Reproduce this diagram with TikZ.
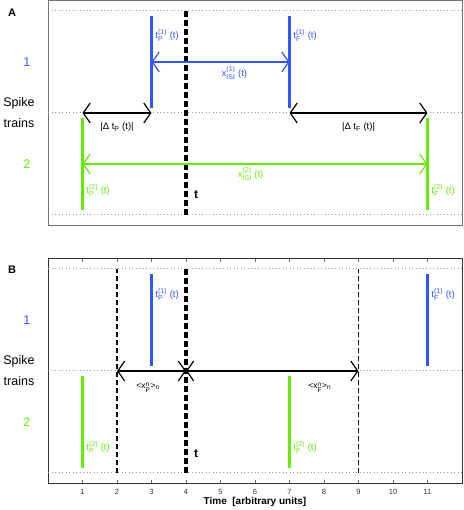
\documentclass[tikz,border=0pt]{standalone}
\usepackage{fontspec}
\usepackage{amsmath}
\setmainfont{Liberation Sans}
\usetikzlibrary{arrows.meta}
\definecolor{trainone}{RGB}{51,85,255}
\definecolor{traintwo}{RGB}{100,235,10}
\DeclareMathSizes{9.5}{9.5}{7}{5.5}
\DeclareMathSizes{8.5}{8.5}{6.5}{5}
\newcommand{\sptime}[3]{#1$^{\text{#2}}_{\text{#3}}$}
\begin{document}
\begin{tikzpicture}[x=34.5pt,y=102pt,
  frameA/.style={draw=black!55,line width=0.9pt},
  frameB/.style={draw=black!80,line width=0.9pt},
  guide/.style={draw=black!40,line width=1pt,dash pattern=on 1pt off 2.5pt},
  spike/.style={line width=3pt},
  tnow/.style={line width=3.5pt,dash pattern=on 6pt off 3pt},
  window/.style={line width=1.3pt,dash pattern=on 5pt off 3pt},
  isi/.style={line width=1.2pt,{Straight Barb[length=7pt,width=20pt]}-{Straight Barb[length=7pt,width=20pt]}},
  lbl/.style={font=\fontsize{9.5}{11}\selectfont,inner sep=1pt},
  mean/.style={font=\fontsize{8.5}{10}\selectfont,inner sep=1pt},
  side/.style={font=\fontsize{12.5}{21}\selectfont,align=center,inner sep=0pt},
  panel/.style={font=\fontsize{11}{13}\bfseries\selectfont,inner sep=0pt},
  now/.style={font=\fontsize{12}{14}\bfseries\selectfont,inner sep=0pt}]
\useasboundingbox (-48pt,-37pt) rectangle (415pt,473pt);
\begin{scope}[yshift=258pt]
\draw[frameA] (0,-0.1) rectangle (12,2.1);
\foreach \k in {0,1,2}
  \draw[guide] (0,\k) -- (12,\k);
\draw[tnow] (4,0) -- (4,2);
\draw[spike,trainone] (3,1.05) -- (3,1.95);
\draw[spike,trainone] (7,1.05) -- (7,1.95);
\draw[spike,traintwo] (1,0.05) -- (1,0.95);
\draw[spike,traintwo] (11,0.05) -- (11,0.95);
\coordinate (a1p) at (3,1.5);
\coordinate (a1f) at (7,1.5);
\coordinate (a2p) at (1,0.5);
\coordinate (a2f) at (11,0.5);
\coordinate (adp2) at (1,1);
\coordinate (adp1) at (3,1);
\coordinate (adf1) at (7,1);
\coordinate (adf2) at (11,1);
\draw[isi,trainone] (a1p) -- (a1f);
\draw[isi,traintwo] (a2p) -- (a2f);
\draw[isi] (adp2) -- (adp1);
\draw[isi] (adf1) -- (adf2);
\node[lbl,trainone,anchor=west] (la1p) at (3.08,1.76) {\sptime{t}{(1)}{P} (t)};
\node[lbl,trainone,anchor=west] (la1f) at (7.08,1.76) {\sptime{t}{(1)}{F} (t)};
\node[lbl,traintwo,anchor=west] (la2p) at (1.08,0.24) {\sptime{t}{(2)}{P} (t)};
\node[lbl,traintwo,anchor=west] (la2f) at (11.08,0.24) {\sptime{t}{(2)}{F} (t)};
\node[lbl,trainone,anchor=west] (lisi1) at (5.0,1.39) {\sptime{x}{(1)}{ISI} (t)};
\node[lbl,traintwo,anchor=west] (lisi2) at (5.47,0.40) {\sptime{x}{(2)}{ISI} (t)};
\node[lbl] (ldp) at (2,0.86) {|Δ \sptime{t}{}{P} (t)|};
\node[lbl] (ldf) at (9,0.86) {|Δ \sptime{t}{}{F} (t)|};
\node[now] (tA) at (4.29,0.2) {t};
\node[panel] (pA) at (-1.04,1.98) {A};
\node[side,trainone] (oneA) at (-0.61,1.5) {1};
\node[side] (spA) at (-0.84,1.0) {Spike\\trains};
\node[side,traintwo] (twoA) at (-0.61,0.5) {2};
\end{scope}
\draw[frameB] (0,-0.1) rectangle (12,2.1);
\foreach \k in {1,...,11}{
  \draw[black!60,line width=0.8pt] (\k,-0.1) -- ++(0,3pt);
  \draw[black!60,line width=0.8pt] (\k,2.1) -- ++(0,-3pt);
  \node[font=\fontsize{7.5}{9}\selectfont,text=black!80] (tick\k) at (\k,-0.186) {\k};
}
\node[font=\fontsize{10}{12}\bfseries\selectfont] (xlab) at (6,-0.285) {Time\ \ [arbitrary units]};
\foreach \k in {0,1,2}
  \draw[guide] (0,\k) -- (12,\k);
\draw[window] (2,0) -- (2,2);
\draw[window] (9,0) -- (9,2);
\draw[tnow] (4,0) -- (4,2);
\draw[spike,trainone] (3,1.05) -- (3,1.95);
\draw[spike,trainone] (11,1.05) -- (11,1.95);
\draw[spike,traintwo] (1,0.05) -- (1,0.95);
\draw[spike,traintwo] (7,0.05) -- (7,0.95);
\coordinate (bwl) at (2,1);
\coordinate (bnow) at (4,1);
\coordinate (bwr) at (9,1);
\draw[isi] (bwl) -- (bnow);
\draw[isi] (bnow) -- (bwr);
\node[lbl,trainone,anchor=west] (lb1p) at (3.08,1.75) {\sptime{t}{(1)}{P} (t)};
\node[lbl,trainone,anchor=west] (lb1f) at (11.08,1.75) {\sptime{t}{(1)}{F} (t)};
\node[lbl,traintwo,anchor=west] (lb2p) at (1.08,0.25) {\sptime{t}{(2)}{P} (t)};
\node[lbl,traintwo,anchor=west] (lb2f) at (7.08,0.25) {\sptime{t}{(2)}{F} (t)};
\node[mean] (lxp) at (2.9,0.84) {<\sptime{x}{n}{P}>$_{\text{n}}$};
\node[mean] (lxf) at (7.88,0.84) {<\sptime{x}{n}{F}>$_{\text{n}}$};
\node[now] (tB) at (4.29,0.19) {t};
\node[panel] (pB) at (-1.04,1.99) {B};
\node[side,trainone] (oneB) at (-0.61,1.5) {1};
\node[side] (spB) at (-0.84,1.0) {Spike\\trains};
\node[side,traintwo] (twoB) at (-0.61,0.5) {2};
\end{tikzpicture}
\end{document}
